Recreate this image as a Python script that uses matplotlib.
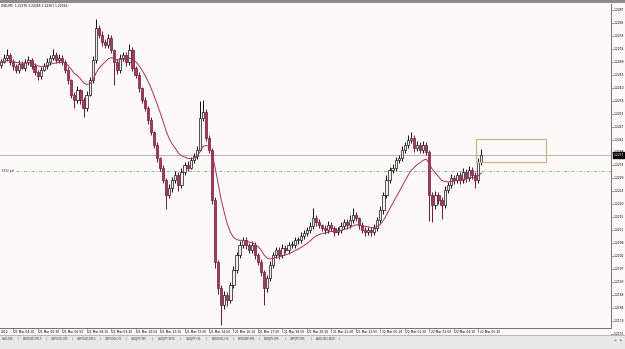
import matplotlib
matplotlib.use("Agg")
import matplotlib.pyplot as plt
import numpy as np
import pandas as pd
from matplotlib.transforms import blended_transform_factory
from matplotlib.patches import Rectangle

# ---------------- data ----------------
title_text = "USD,M5  1.22376 1.22385 1.22361 1.22366"
start_time = "2012-03-21 03:30"
first_open = 1.22680
closes = [
    1.22690, 1.22703, 1.22714, 1.22690, 1.22676, 1.22662, 1.22683, 1.22669, 1.22690, 1.22697,
    1.22676, 1.22655, 1.22641, 1.22662, 1.22676, 1.22690, 1.22703, 1.22714, 1.22697, 1.22703,
    1.22690, 1.22662, 1.22627, 1.22575, 1.22558, 1.22592, 1.22558, 1.22530, 1.22575, 1.22627,
    1.22697, 1.22808, 1.22783, 1.22759, 1.22749, 1.22773, 1.22731, 1.22690, 1.22662, 1.22703,
    1.22714, 1.22690, 1.22731, 1.22669, 1.22644, 1.22599, 1.22558, 1.22530, 1.22488, 1.22446,
    1.22401, 1.22356, 1.22321, 1.22280, 1.22227, 1.22252, 1.22280, 1.22297, 1.22262, 1.22307,
    1.22332, 1.22321, 1.22349, 1.22363, 1.22384, 1.22495, 1.22516, 1.22425, 1.22384, 1.22210,
    1.21995, 1.21904, 1.21845, 1.21880, 1.21863, 1.21915, 1.21967, 1.22019, 1.22054, 1.22071,
    1.22054, 1.22036, 1.22054, 1.22019, 1.21995, 1.21960, 1.21904, 1.21939, 1.21984, 1.22019,
    1.22036, 1.22019, 1.22043, 1.22036, 1.22054, 1.22054, 1.22071, 1.22071, 1.22085, 1.22095,
    1.22106, 1.22120, 1.22147, 1.22134, 1.22123, 1.22113, 1.22106, 1.22123, 1.22113, 1.22099,
    1.22106, 1.22120, 1.22134, 1.22123, 1.22141, 1.22158, 1.22147, 1.22123, 1.22106, 1.22099,
    1.22106, 1.22099, 1.22113, 1.22141, 1.22175, 1.22227, 1.22280, 1.22314, 1.22321, 1.22349,
    1.22356, 1.22384, 1.22401, 1.22419, 1.22425, 1.22391, 1.22401, 1.22384, 1.22401, 1.22377,
    1.22227, 1.22193, 1.22227, 1.22210, 1.22193, 1.22245, 1.22262, 1.22286, 1.22280, 1.22297,
    1.22280, 1.22307, 1.22286, 1.22314, 1.22297, 1.22280, 1.22342, 1.22366,
]
# upper / lower shadow lengths in pips
wick_up = [
    1, 1.5, 2, 0.5, 1, 0.5, 1.5, 1, 1, 1.5,
    0.5, 1, 0.5, 1, 1, 1.5, 1, 2, 1, 1.5,
    1, 0.5, 1, 0.5, 1, 1.5, 0.5, 1, 1.5, 1,
    1.5, 3, 1, 1.5, 1, 1.5, 1, 0.5, 1, 1.5,
    1, 1, 2, 1, 0.5, 1, 0.5, 1, 0.5, 1,
    0.5, 1, 0.5, 1, 0.5, 1.5, 1, 1.5, 1, 1.5,
    1, 1.5, 1, 1, 1.5, 6, 4, 1, 1, 0.5,
    1, 0.5, 1, 1.5, 1, 1, 1.5, 1, 1.5, 1,
    1, 0.5, 1.5, 1, 0.5, 1, 0.5, 1, 1.5, 1,
    1, 1, 1.5, 1, 1, 1.5, 1, 1, 1.5, 1,
    1, 1.5, 3.5, 1, 1, 0.5, 1, 1.5, 1, 0.5,
    1, 1.5, 1, 1, 1.5, 2.5, 1, 0.5, 1, 1,
    1, 1, 1.5, 1, 1.5, 1, 1.5, 1, 1.5, 1,
    1, 1.5, 1, 1.5, 2, 1, 1.5, 1, 1.5, 1,
    0.5, 1, 1.5, 1, 1, 1.5, 1, 1.5, 1, 1,
    1, 1.5, 1, 1.5, 1, 1, 1.5, 2,
]
wick_dn = [
    1, 0.5, 1, 1, 1.5, 1, 1, 0.5, 1, 1,
    1, 1, 1.5, 1, 0.5, 1, 1, 0.5, 1, 1,
    1, 1, 1.5, 1, 3, 1, 1.5, 3, 1, 0.5,
    1, 1, 1, 1.5, 1, 1, 1, 8, 1.5, 1,
    1, 1.5, 1, 1, 1, 1.5, 1, 1, 1.5, 1,
    1, 1.5, 1, 1, 5, 1, 1.5, 1, 2, 1,
    1, 1, 0.5, 1, 1, 0.5, 1, 1, 1, 1.5,
    2, 2, 7, 1.5, 2, 1, 1, 1, 1, 1,
    1.5, 1, 1, 1.5, 1, 1.5, 6, 1.5, 1, 1,
    1, 1.5, 1, 1, 1.5, 1, 1, 1.5, 1, 1,
    1, 1, 1, 1.5, 1, 1, 1.5, 1, 1, 1.5,
    1, 1, 1, 1.5, 1, 1, 1, 1.5, 1, 1.5,
    1, 1.5, 1, 1, 1, 1.5, 1, 1, 1, 1,
    1, 1, 1, 1, 1, 1.5, 1, 1, 1, 1,
    9, 6, 1.5, 1.5, 5, 1, 1, 1, 1.5, 1,
    1.5, 1, 1.5, 1, 1.5, 3, 1, 1,
]
price_ticks = [1.22870, 1.22825, 1.22780, 1.22735, 1.22690, 1.22645, 1.22600, 1.22555,
               1.22510, 1.22465, 1.22420, 1.22375, 1.22330, 1.22285, 1.22240, 1.22195,
               1.22150, 1.22105, 1.22060, 1.22015, 1.21970, 1.21925, 1.21880, 1.21835,
               1.21790, 1.21745]
price_labels = ["1.2287", "1.2283", "1.2278", "1.2274", "1.2269", "1.2265", "1.2260", "1.2256",
                "1.2251", "1.2247", "1.2242", "1.2238", "1.2233", "1.2229", "1.2224", "1.2220",
                "1.2215", "1.2211", "1.2206", "1.2202", "1.2197", "1.2193", "1.2188", "1.2184",
                "1.2179", "1.2175"]
time_labels = ["21 Mar 04:10", "21 Mar 05:30", "21 Mar 06:50", "21 Mar 08:10", "21 Mar 09:30",
               "21 Mar 10:50", "21 Mar 12:10", "21 Mar 13:30", "21 Mar 14:50", "21 Mar 16:10",
               "21 Mar 17:30", "21 Mar 18:50", "21 Mar 20:10", "21 Mar 21:30", "21 Mar 22:50",
               "22 Mar 00:10", "22 Mar 01:30", "22 Mar 02:50", "22 Mar 04:10", "22 Mar 05:30"]
hline_level = 1.22311
hline_label = "5632 pal"
box_price_top = 1.22422
box_price_bottom = 1.22342
box_time_start = "2012-03-22 05:30"
box_time_end = "2012-03-22 09:10"
tabs = ["USD,M5", "EURUSD,M15", "GBPUSD,M5", "GBPUSD,M15", "GBPUSD,H1", "USDJPY,M5",
        "USDJPY,M15", "USDJPY,H1", "EURUSD,H1", "EURGBP,M5", "EURJPY,M5", "GBPJPY,M5",
        "AUDUSD,M30"]

# ---------------- styling ----------------
BG = "#fdf9f9"
UP_FACE = "#f4eeee"
UP_EDGE = "#111111"
DN_FACE = "#a83a62"
DN_EDGE = "#6a1838"
MA_COLOR = "#a5334f"
FS = 2.2

W, H = 625, 349
fig = plt.figure(figsize=(W / 100, H / 100), dpi=100)
fig.patch.set_facecolor(BG)

ax_left, ax_right, ax_top, ax_bottom = 0, 611, 4, 328
ax = fig.add_axes([ax_left / W, (H - ax_bottom) / H, (ax_right - ax_left) / W, (ax_bottom - ax_top) / H])
ax.set_facecolor(BG)

times = pd.date_range(start_time, periods=len(closes), freq="10min")
n = len(closes)
xs = np.arange(n)
c = np.array(closes)
o = np.concatenate([[first_open], c[:-1]])
hi = np.maximum(o, c) + np.array(wick_up) * 1e-4
lo = np.minimum(o, c) - np.array(wick_dn) * 1e-4
up = c >= o

ax.vlines(xs, lo, hi, colors=np.where(up, UP_EDGE, DN_EDGE), linewidth=0.7, zorder=2)
body_h = np.maximum(np.abs(c - o), 0.00002)
ax.bar(xs[up], body_h[up], bottom=np.minimum(o, c)[up], width=0.72,
       color=UP_FACE, edgecolor=UP_EDGE, linewidth=0.5, zorder=3)
ax.bar(xs[~up], body_h[~up], bottom=np.minimum(o, c)[~up], width=0.72,
       color=DN_FACE, edgecolor=DN_EDGE, linewidth=0.5, zorder=3)

ma = pd.Series(c).ewm(span=14, adjust=False).mean()
ax.plot(xs, ma, color=MA_COLOR, linewidth=0.7, zorder=4)

# price line + level line
ax.axhline(c[-1], color="#b4b4b4", linewidth=0.7, zorder=1)
ax.axhline(hline_level, xmin=16 / 611, color="#7cb87c", linewidth=0.6,
           linestyle=(0, (4, 2, 1, 2)), zorder=1)
ax.text(0.3, hline_level, hline_label, fontsize=FS * 0.9, va="center", ha="left", color="#222222")

# rectangle
bx0 = (pd.Timestamp(box_time_start) - times[0]) / pd.Timedelta("10min") - 0.6
bx1 = (pd.Timestamp(box_time_end) - times[0]) / pd.Timedelta("10min")
ax.add_patch(Rectangle((bx0, box_price_bottom), bx1 - bx0, box_price_top - box_price_bottom,
                       fill=False, edgecolor="#c9b27a", linewidth=0.8, zorder=5))

px_per_bar = 3.06
ax.set_xlim(-0.3, (ax_right - ax_left) / px_per_bar - 0.3)
y_top = 1.22891
y_bot = 1.21765
ax.set_ylim(y_bot, y_top)
ax.set_xticks([])
ax.set_yticks([])
for s in ["left", "top"]:
    ax.spines[s].set_visible(False)
for s in ["right", "bottom"]:
    ax.spines[s].set_color("#707070")
    ax.spines[s].set_linewidth(0.7)

# price labels (right)
tr_y = blended_transform_factory(ax.transAxes, ax.transData)
for v, lab in zip(price_ticks, price_labels):
    ax.plot([1.0, 1.003], [v, v], transform=tr_y, color="#707070", linewidth=0.5, clip_on=False)
    ax.text(1.004, v, lab, transform=tr_y, fontsize=FS, va="center", ha="left", clip_on=False)
ax.text(1.004, c[-1], "1.2237", transform=tr_y, fontsize=FS, va="center", ha="left",
        color="white", clip_on=False,
        bbox=dict(boxstyle="square,pad=0.2", facecolor="black", edgecolor="black"))

# time labels (bottom)
tr_x = blended_transform_factory(ax.transData, ax.transAxes)
fmt = [t.strftime("%d %b %H:%M") for t in times]
for lab in time_labels:
    if lab in fmt:
        p = fmt.index(lab)
        ax.plot([p, p], [0, -0.012], transform=tr_x, color="#707070", linewidth=0.5, clip_on=False)
        ax.text(p + 0.4, -0.013, lab, transform=tr_x, fontsize=FS, va="center", ha="left", clip_on=False)
fig.text(1 / W, 1 - 332 / H, "2012", fontsize=FS, va="center", ha="left")

# title
fig.text(1 / W, 1 - 6 / H, title_text, fontsize=FS, va="center", ha="left")

# top strip
fig.patches.append(Rectangle((0, 1 - 2.5 / H), 1, 2.5 / H, transform=fig.transFigure,
                             facecolor="#8c8c8c", edgecolor="none"))
# tab bar
fig.patches.append(Rectangle((0, 0), 1, 13 / H, transform=fig.transFigure,
                             facecolor="#e8e8e8", edgecolor="none"))
fig.patches.append(Rectangle((0, 13 / H), 1, 1.2 / H, transform=fig.transFigure,
                             facecolor="#b8b8b8", edgecolor="none"))
xpos = 2
for name in tabs:
    fig.text(xpos / W, 1 - 339 / H, name, fontsize=FS, va="center", ha="left", color="#444444")
    wlen = len(name) * 1.8 + 10
    xpos += wlen
    fig.text((xpos - 5) / W, 1 - 339 / H, "|", fontsize=FS * 1.3, va="center", ha="center", color="#777777")
fig.text(615 / W, 1 - 340 / H, "\u25c4", fontsize=FS, va="center", ha="center", color="#555555")
fig.text(621 / W, 1 - 340 / H, "\u25ba", fontsize=FS, va="center", ha="center", color="#555555")

fig.savefig("out.png", dpi=100, facecolor=BG)
